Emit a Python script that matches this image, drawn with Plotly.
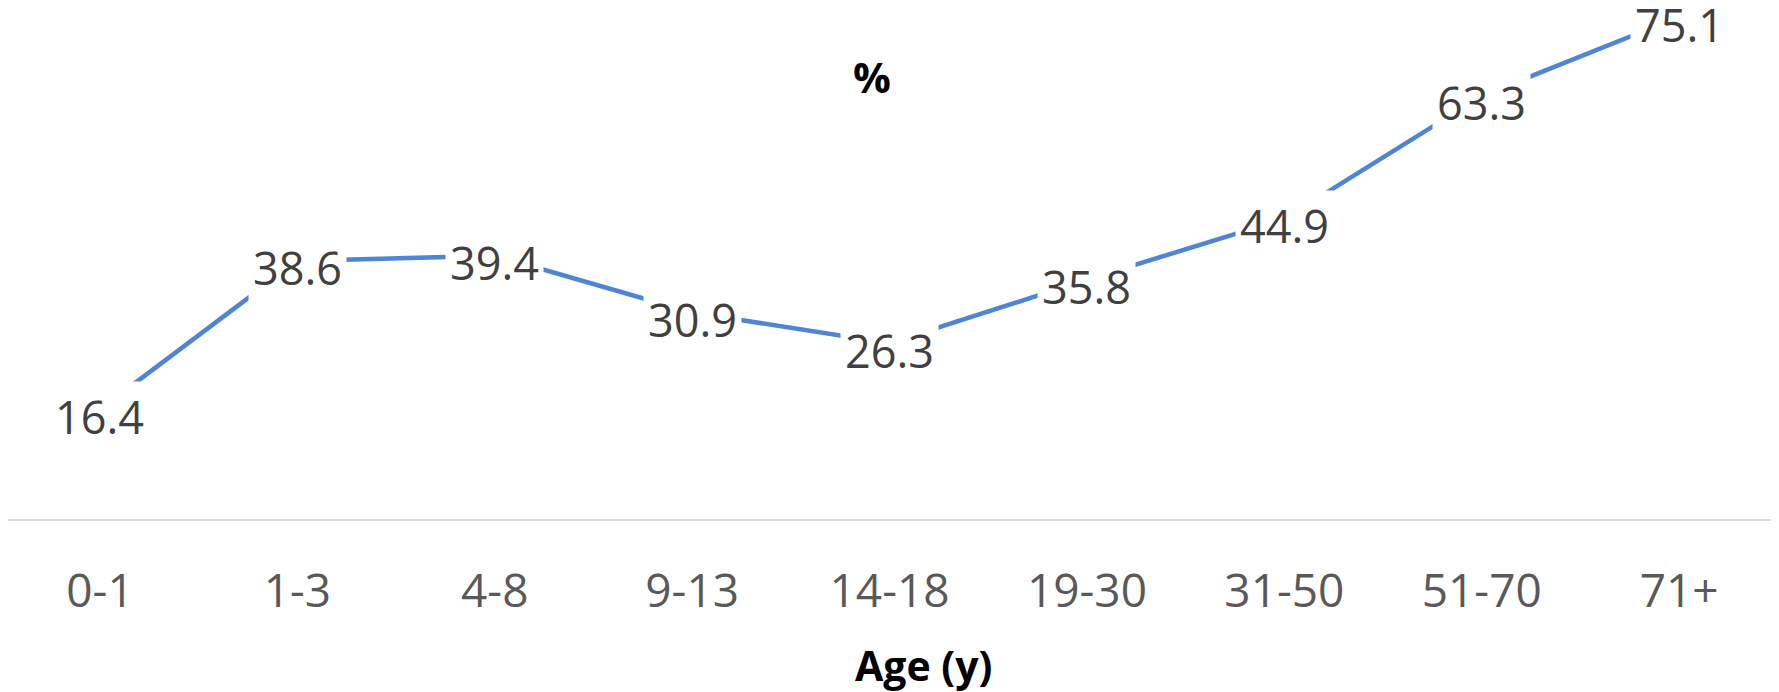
import plotly.graph_objects as go

categories = ["0-1", "1-3", "4-8", "9-13", "14-18", "19-30", "31-50", "51-70", "71+"]
values = [16.4, 38.6, 39.4, 30.9, 26.3, 35.8, 44.9, 63.3, 75.1]
y_title = "%"
x_title = "Age (y)"

FONT = "Open Sans"
LINE_COLOR = "#4F85D5"

W, H = 1771, 684
PLOT_H = 511

fig = go.Figure()
fig.add_trace(go.Scatter(
    x=categories, y=values, mode="lines",
    line=dict(color=LINE_COLOR, width=4.5),
    hoverinfo="skip", showlegend=False,
))

for c, v in zip(categories, values):
    fig.add_annotation(
        x=c, y=v, text=f"{v:.1f}", showarrow=False,
        xanchor="center", yanchor="middle", yshift=-7,
        bgcolor="white", borderpad=4,
        font=dict(family=FONT, size=45, color="#404040"),
    )

fig.add_annotation(
    xref="paper", yref="paper", x=864 / W, y=1 - 69 / PLOT_H,
    text=f"<b>{y_title}</b>", showarrow=False,
    xanchor="center", yanchor="middle",
    font=dict(family=FONT, size=42, color="#000000"),
)
fig.add_annotation(
    xref="paper", yref="paper", x=915 / W, y=-(657 - PLOT_H) / PLOT_H,
    text=f"<b>{x_title}</b>", showarrow=False,
    xanchor="center", yanchor="middle",
    font=dict(family=FONT, size=41, color="#000000"),
)

fig.update_layout(
    width=W, height=H,
    margin=dict(l=0, r=0, t=0, b=H - PLOT_H, autoexpand=False),
    paper_bgcolor="white", plot_bgcolor="white",
    xaxis=dict(
        type="category", range=[-0.466, 8.506],
        showline=True, linecolor="#D9D9D9", linewidth=1.5,
        showgrid=False, zeroline=False,
        ticks="outside", ticklen=31, tickcolor="rgba(0,0,0,0)",
        tickfont=dict(family=FONT, size=46, color="#595959"),
    ),
    yaxis=dict(
        range=[0, 76.45], visible=False,
        showgrid=False, zeroline=False,
    ),
)

fig.write_html("out.html")
